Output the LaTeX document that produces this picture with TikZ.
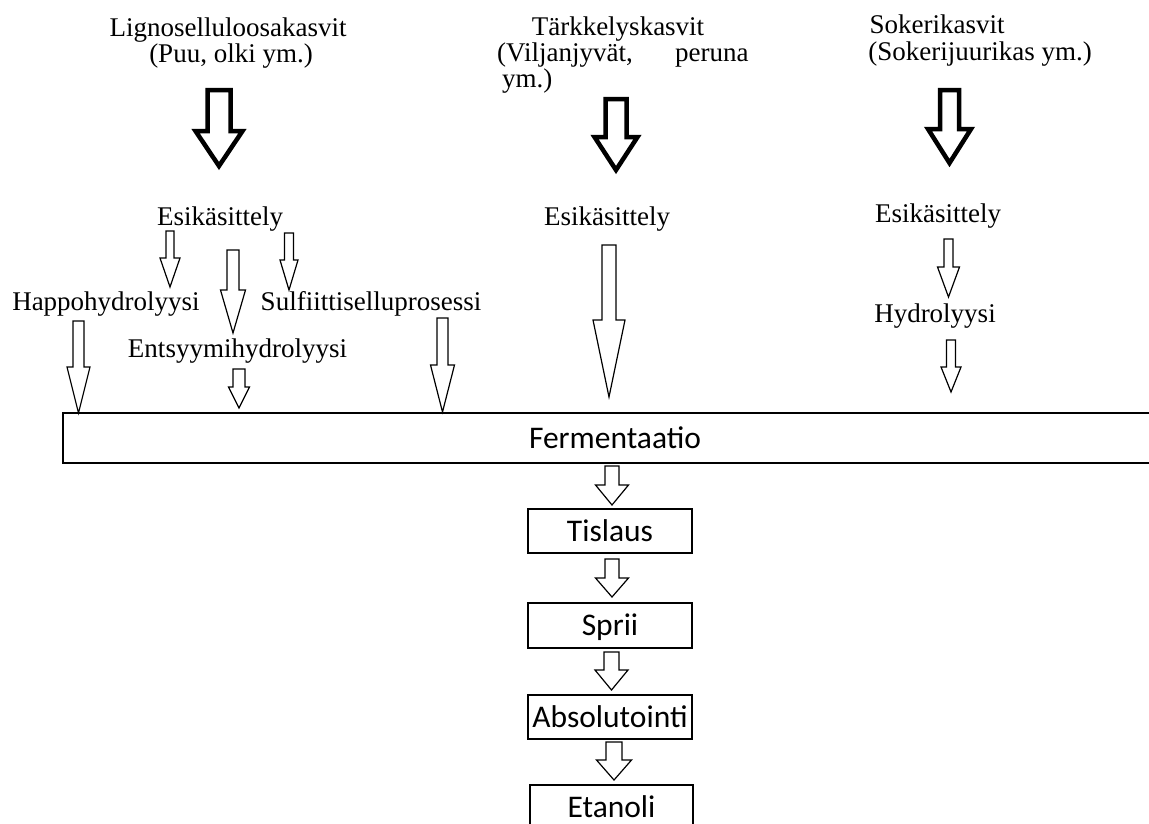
\documentclass[tikz,border=0pt]{standalone}
\usepackage{fontspec}
\setmainfont{Liberation Serif}
\newfontfamily\calibfont{Carlito}
% block arrow: style, centre x, top y, head y, tip y, shaft half-width, head half-width
\newcommand\blockarrow[7]{%
  \path[#1] (#2-#6,#3) -- (#2+#6,#3) -- (#2+#6,#4) -- (#2+#7,#4) -- (#2,#5)
    -- (#2-#7,#4) -- (#2-#6,#4) -- cycle;}
\begin{document}
\begin{tikzpicture}[x=1pt,y=-1pt,
  lbl/.style={inner sep=0pt, anchor=base, font=\fontsize{27}{24}\selectfont},
  lblw/.style={lbl, anchor=base west},
  stage/.style={draw, line width=1.5pt, inner sep=0pt, minimum height=44pt,
    text height=20pt, text depth=0pt, font=\calibfont\fontsize{31.5}{36}\selectfont},
  thinarrow/.style={draw, line width=1.2pt, fill=white, line join=miter},
  bigarrow/.style={draw, line width=4.5pt, fill=white, line join=miter, miter limit=4}]
\useasboundingbox (0,0) rectangle (1149,823);

% raw materials
\node[lbl] (lig1) at (228,36) {Lignoselluloosakasvit};
\node[lbl] (lig2) at (231,62) {(Puu, olki ym.)};
\node[lbl] (tar1) at (618,35) {Tärkkelyskasvit};
\node[lblw] (tar2) at (497,61) {(Viljanjyvät,};
\node[lblw] (tar2b) at (675,61) {peruna};
\node[lblw] (tar3) at (502,87) {ym.)};
\node[lbl] (sok1) at (937,33) {Sokerikasvit};
\node[lbl] (sok2) at (980,60) {(Sokerijuurikas ym.)};

% main input arrows
\blockarrow{bigarrow}{219}{90}{131}{166}{11.5}{23.5}
\blockarrow{bigarrow}{616}{99}{137}{170}{10.5}{21.5}
\blockarrow{bigarrow}{949.5}{90}{129}{163}{9.5}{21.5}

% pretreatment and hydrolysis
\node[lbl] (esi1) at (220,225) {Esikäsittely};
\node[lbl] (esi2) at (607,225) {Esikäsittely};
\node[lbl] (esi3) at (938,222) {Esikäsittely};
\node[lbl] (happo) at (106,310) {Happohydrolyysi};
\node[lbl] (sulf) at (371,310) {Sulfiittiselluprosessi};
\node[lbl] (ents) at (237.5,357) {Entsyymihydrolyysi};
\node[lbl] (hydro) at (935,322) {Hydrolyysi};

\blockarrow{thinarrow}{170}{231}{258}{287}{4}{10}
\blockarrow{thinarrow}{233}{250}{290}{333}{6}{12.5}
\blockarrow{thinarrow}{289}{233}{260}{290}{4.5}{9}
\blockarrow{thinarrow}{78.5}{321}{367}{413}{5.5}{11.5}
\blockarrow{thinarrow}{239}{369}{387}{408}{6}{10.5}
\blockarrow{thinarrow}{442.5}{318}{365}{412}{5.5}{12}
\blockarrow{thinarrow}{609}{245}{320}{397}{7}{16}
\blockarrow{thinarrow}{948.5}{239}{267}{297}{4.5}{11}
\blockarrow{thinarrow}{951}{340}{367}{392}{4.5}{10}

% process chain
\node[stage, minimum width=1104pt, minimum height=50pt] (ferm) at (615,438) {Fermentaatio};
\node[stage, minimum width=164pt] (tis) at (610,531) {Tislaus};
\node[stage, minimum width=164pt, minimum height=45pt] (spr) at (610,625.5) {Sprii};
\node[stage, minimum width=164pt] (abs) at (610,717) {Absolutointi};
\node[stage, minimum width=163pt] (eta) at (611.5,807) {Etanoli};

\blockarrow{thinarrow}{612}{466}{485}{505}{7}{16.5}
\blockarrow{thinarrow}{612}{559}{578}{597}{7}{16.5}
\blockarrow{thinarrow}{611.5}{652}{670}{690}{7.5}{16.5}
\blockarrow{thinarrow}{614}{742}{760}{780}{8}{17.5}
\end{tikzpicture}
\end{document}
